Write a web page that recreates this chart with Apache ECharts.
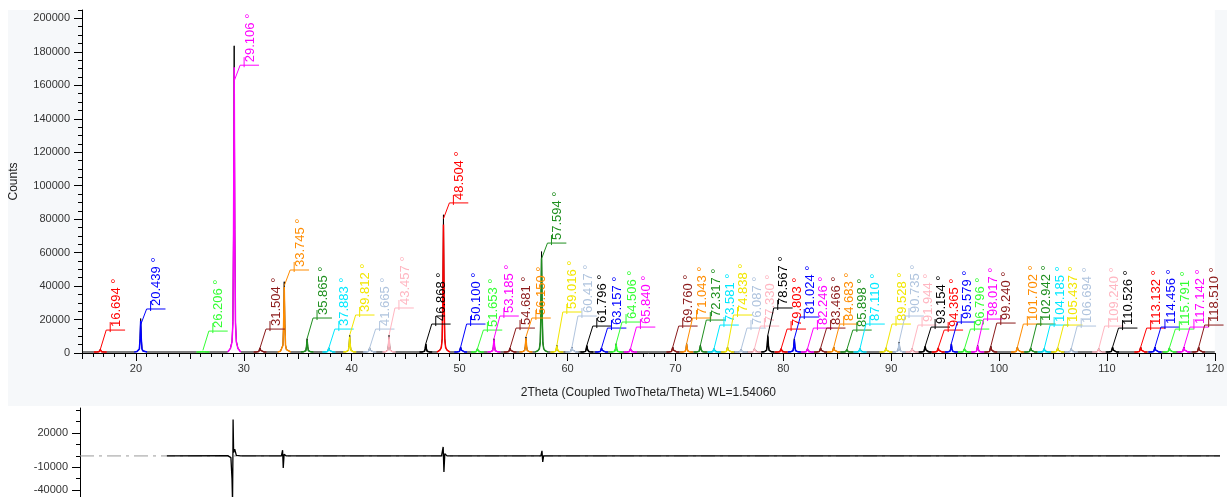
<!DOCTYPE html>
<html lang="en">
<head>
  <meta charset="UTF-8">
  <title>2Theta scan</title>
  <style>html,body{margin:0;padding:0;background:#fff}</style>
</head>
<body>
  <div id="main" style="width:1227px;height:497px"></div>
  <script src="https://cdn.jsdelivr.net/npm/echarts@6/dist/echarts.min.js"></script>
  <script>
    var myChart = echarts.init(document.getElementById('main'))

    // peak positions (2theta), peak counts, height of the label leader line
    var peakPos = [16.694, 20.439, 26.206, 29.106, 31.504, 33.745, 35.865, 37.883, 39.812, 41.665, 43.457, 46.868,
                   48.504, 50.100, 51.653, 53.185, 54.681, 56.150, 57.594, 59.016, 60.417, 61.796,
                   63.157, 64.506, 65.840, 69.760, 71.043, 72.317, 73.581, 74.838, 76.087, 77.330, 78.567,
                   79.803, 81.024, 82.246, 83.466, 84.683, 85.898, 87.110, 89.528, 90.735, 91.944, 93.154,
                   94.365, 95.579, 96.796, 98.017, 99.240,
                   101.702, 102.942, 104.185, 105.437, 106.694, 109.240, 110.526,
                   113.132, 114.456, 115.791, 117.142, 118.510]
    var peakHeight = [1500, 20000, 1000, 183000, 2500, 42000, 8000, 2500, 10000, 2500, 10000, 5000,
                      82000, 3000, 2000, 8000, 2500, 9000, 60000, 4000, 3000, 4000,
                      2500, 5000, 2000, 3000, 5000, 4000, 2000, 3000, 1500, 2000, 10000,
                      2000, 8000, 2000, 2500, 3000, 1500, 2000, 2500, 6000, 2000, 3500,
                      2500, 5000, 2000, 4000, 3500,
                      3000, 2500, 2000, 2500, 2000, 2000, 3000,
                      3000, 3000, 2500, 3000, 3000]
    var labelHeight = [13700, 26300, 13100, 172000, 14300, 49600, 20900, 14300, 22700, 14300, 26900, 17300,
                       89700, 17300, 13700, 22100, 14900, 20900, 65700, 24500, 22100, 16100,
                       14900, 18500, 15500, 16100, 20900, 19700, 16700, 22700, 14900, 16100, 26900,
                       14300, 21500, 14900, 14900, 17300, 13700, 17300, 17300, 22100, 16700, 15500,
                       13700, 18500, 14300, 20300, 17900,
                       17300, 17300, 16700, 16700, 16100, 16100, 14900,
                       14900, 15500, 14300, 15500, 16700]
    var peakColor = [0, 1, 2, 3, 4, 5, 6, 7, 8, 9, 10, 11,
                     0, 1, 2, 3, 4, 5, 6, 8, 9, 11,
                     1, 2, 3, 4, 5, 6, 7, 8, 9, 10, 11,
                     0, 1, 3, 4, 5, 6, 7, 8, 9, 10, 11,
                     0, 1, 2, 3, 4,
                     5, 6, 7, 8, 9, 10, 11,
                     0, 1, 2, 3, 4]
    var palette = ['#ff0000', '#0000ff', '#33ff33', '#ff00ff', '#8b1a1a', '#ff8c00',
                   '#1f8f1f', '#00e8ff', '#f2e600', '#b0c4de', '#ffb6c1', '#000000']

    // shape of one peak: [offset in degrees, fraction of peak height]
    var profile = [[-0.6, 0], [-0.35, 0.012], [-0.2, 0.035], [-0.12, 0.1], [-0.06, 0.4], [0, 1],
                   [0.06, 0.4], [0.12, 0.1], [0.2, 0.035], [0.35, 0.012], [0.6, 0]]
    var background = 600

    // difference curve (measured - calculated)
    var residual = [[23, 0], [28.6, 300], [28.9, -1500], [29.0, -20000], [29.05, -40000], [29.08, -4000],
                    [29.1, 32000], [29.15, 3000], [29.25, 6000], [29.4, 500], [29.8, 0], [33.55, 0],
                    [33.66, 5000], [33.72, -10500], [33.8, 1500], [34, 0], [35.8, 0], [35.85, 1200],
                    [35.9, -800], [36, 0], [39.75, 0], [39.8, 1500], [39.85, -1500], [40, 0], [43.4, 0],
                    [43.45, 1000], [43.5, -1000], [43.6, 0], [48.3, 0], [48.45, 7900], [48.52, -14000],
                    [48.6, 2000], [48.8, 0], [57.45, 0], [57.55, 4400], [57.62, -5300], [57.7, 0], [120, 0]]

    var xTickLabels = [20, 30, 40, 50, 60, 70, 80, 90, 100, 110, 120]
    var yTickLabels = [0, 20000, 40000, 60000, 80000, 100000, 120000, 140000, 160000, 180000, 200000]
    var residTickValues = [20000, -10000, -30000]
    var residTickLabels = ['20000', '-10000', '-40000']

    var xMinor = [], xMid = [], yMinor = [], residMinor = []
    for (var t = 15; t <= 120; t++) xMinor.push(t)
    for (var t = 15; t <= 120; t += 5) xMid.push(t)
    for (var t = 0; t <= 205000; t += 5000) yMinor.push(t)
    for (var t = -30000; t <= 40000; t += 10000) residMinor.push(t)

    // measured pattern (black) and one coloured profile per peak
    var raw = [[15, background]]
    var series = []
    for (var i = 0; i < peakPos.length; i++) {
      var fit = []
      for (var j = 0; j < profile.length; j++) {
        var x = peakPos[i] + profile[j][0]
        raw.push([x, background + peakHeight[i] * profile[j][1]])
        fit.push([x, background + peakHeight[i] * 0.93 * profile[j][1]])
      }
      series.push({
        type: 'line', data: fit, symbol: 'none', silent: true, z: 3,
        lineStyle: { color: palette[peakColor[i]], width: 1.5 }
      })
    }
    raw.push([120, background])
    series.unshift({
      type: 'line', data: raw, symbol: 'none', silent: true, z: 2,
      lineStyle: { color: '#000', width: 1 }
    })

    var labelRows = []
    for (var i = 0; i < peakPos.length; i++) {
      labelRows.push([peakPos[i], peakHeight[i], labelHeight[i], peakColor[i]])
    }
    series.push({
      type: 'custom', data: labelRows, z: 5, silent: true,
      encode: { x: 0, y: 2 },
      renderItem: function (params, api) {
        var pos = api.value(0), h = api.value(1), lh = api.value(2)
        var color = palette[api.value(3)]
        var start = api.coord([pos, Math.min(h, lh - 10000) + background])
        var knee = api.coord([pos + 0.55, lh])
        var end = api.coord([pos + 2.3, lh])
        var bx = knee[0] + 4
        return {
          type: 'group',
          children: [
            { type: 'polyline', shape: { points: [start, knee, end] }, style: { stroke: color, lineWidth: 1, fill: null } },
            { type: 'line', shape: { x1: bx, y1: knee[1] - 8, x2: bx, y2: knee[1] + 2 }, style: { stroke: color, lineWidth: 1 } },
            {
              type: 'text', x: bx + 6, y: knee[1] - 3, rotation: Math.PI / 2,
              style: { text: pos.toFixed(3) + ' °', fill: color, font: '13px Arial, "Liberation Sans"', align: 'left', verticalAlign: 'middle' }
            }
          ]
        }
      }
    })

    series.push({
      type: 'line', xAxisIndex: 3, yAxisIndex: 2, data: [[15, 0], [120, 0]], symbol: 'none', silent: true,
      lineStyle: { color: '#9a9a9a', width: 1, type: [14, 5, 3, 5] }
    })
    series.push({
      type: 'line', xAxisIndex: 3, yAxisIndex: 2, data: residual, symbol: 'none', silent: true, clip: false,
      lineStyle: { color: '#000', width: 1.3 }
    })

    var tickFont = { fontSize: 11, color: '#333', fontFamily: 'Arial, "Liberation Sans"' }
    var plain = function (v) { return String(v) }

    var options = {
      animation: false,
      graphic: [
        { type: 'rect', shape: { x: 8, y: 10, width: 1219, height: 396 }, style: { fill: '#f6f8fa' }, z: -10, silent: true }
      ],
      grid: [
        { left: 80, right: 7, top: 10, height: 343, show: true, backgroundColor: '#fff', borderWidth: 0 },
        { left: 80, right: 7, top: 408, height: 89, show: false }
      ],
      xAxis: [
        {
          type: 'value', gridIndex: 0, min: 15, max: 120, position: 'bottom',
          axisLine: { lineStyle: { color: '#000', width: 1 } },
          axisTick: { customValues: xTickLabels, length: 8, lineStyle: { color: '#000' } },
          axisLabel: Object.assign({ customValues: xTickLabels, margin: 10, formatter: plain }, tickFont),
          splitLine: { show: false },
          name: '2Theta (Coupled TwoTheta/Theta) WL=1.54060', nameLocation: 'middle', nameGap: 34,
          nameTextStyle: { fontSize: 12, color: '#222', fontFamily: 'Arial, "Liberation Sans"' }
        },
        {
          type: 'value', gridIndex: 0, min: 15, max: 120, position: 'bottom',
          axisLine: { show: false },
          axisTick: { customValues: xMinor, length: 4, lineStyle: { color: '#000' } },
          axisLabel: { show: false }, splitLine: { show: false }
        },
        {
          type: 'value', gridIndex: 0, min: 15, max: 120, position: 'bottom',
          axisLine: { show: false },
          axisTick: { customValues: xMid, length: 6, lineStyle: { color: '#000' } },
          axisLabel: { show: false }, splitLine: { show: false }
        },
        { type: 'value', gridIndex: 1, min: 15, max: 120, show: false }
      ],
      yAxis: [
        {
          type: 'value', gridIndex: 0, min: 0, max: 205000, position: 'left',
          axisLine: { show: true, lineStyle: { color: '#000' } },
          axisTick: { show: true, customValues: yTickLabels, length: 8, lineStyle: { color: '#000' } },
          axisLabel: Object.assign({ customValues: yTickLabels, margin: 12, formatter: plain }, tickFont),
          splitLine: { show: false },
          name: 'Counts', nameLocation: 'middle', nameGap: 62,
          nameTextStyle: { fontSize: 12, color: '#222', fontFamily: 'Arial, "Liberation Sans"' }
        },
        {
          type: 'value', gridIndex: 0, min: 0, max: 205000, position: 'left',
          axisLine: { show: false },
          axisTick: { show: true, customValues: yMinor, length: 4, lineStyle: { color: '#000' } },
          axisLabel: { show: false }, splitLine: { show: false }
        },
        {
          type: 'value', gridIndex: 1, min: -36000, max: 42000, position: 'left',
          axisLine: { show: true, lineStyle: { color: '#000' } },
          axisTick: { show: true, customValues: residTickValues, length: 8, lineStyle: { color: '#000' } },
          axisLabel: Object.assign({
            customValues: residTickValues, margin: 12,
            formatter: function (v) { return residTickLabels[residTickValues.indexOf(v)] }
          }, tickFont),
          splitLine: { show: false }
        },
        {
          type: 'value', gridIndex: 1, min: -36000, max: 42000, position: 'left',
          axisLine: { show: false },
          axisTick: { show: true, customValues: residMinor, length: 4, lineStyle: { color: '#000' } },
          axisLabel: { show: false }, splitLine: { show: false }
        }
      ],
      series: series
    }

    myChart.setOption(options)
  </script>
</body>
</html>
